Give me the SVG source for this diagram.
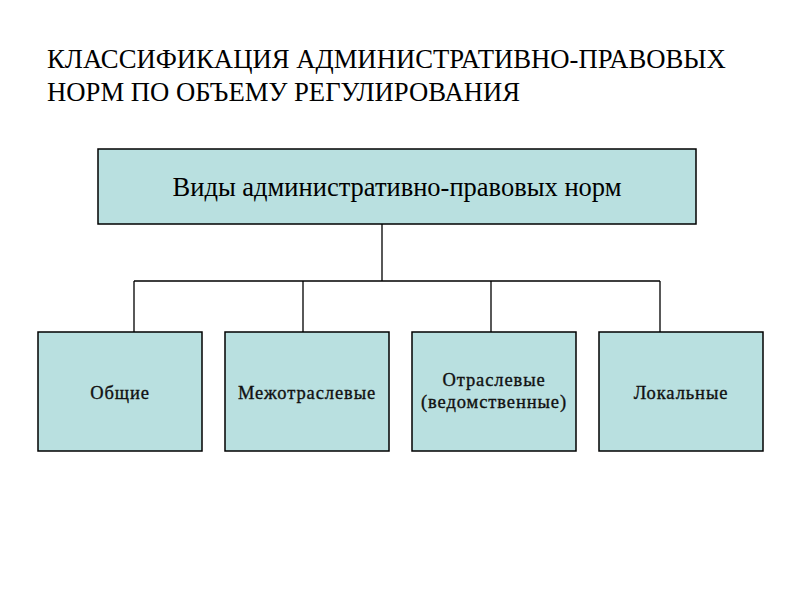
<svg xmlns="http://www.w3.org/2000/svg" width="800" height="600" viewBox="0 0 800 600">
<style>
.box{fill:#b9e0e0;stroke:#000;stroke-width:1.5}
.t{font-family:"Liberation Serif","Times New Roman",serif;fill:#000}
.title{font-size:26.7px}
.main{font-size:26.5px}
.lbl{font-size:18.5px;letter-spacing:0.9px;fill:#111;stroke:#111;stroke-width:0.35}
.conn{fill:none;stroke:#000;stroke-width:1.3}
</style>
<rect width="800" height="600" fill="#fff"/>
<g id="title">
<text class="t title" x="47" y="68">КЛАССИФИКАЦИЯ АДМИНИСТРАТИВНО-ПРАВОВЫХ</text>
<text class="t title" x="47" y="101">НОРМ ПО ОБЪЕМУ РЕГУЛИРОВАНИЯ</text>
</g>
<g id="connectors">
<path class="conn" d="M382 224V281M134 281H660M134 281V332M303 281V332M491 281V332M660 281V332"/>
</g>
<g id="root">
<rect class="box" x="98" y="149" width="598" height="75"/>
<text class="t main" x="397" y="196" text-anchor="middle">Виды административно-правовых норм</text>
</g>
<g id="n1">
<rect class="box" x="38" y="332" width="164" height="119"/>
<text class="t lbl" x="120" y="399" text-anchor="middle">Общие</text>
</g>
<g id="n2">
<rect class="box" x="225" y="332" width="164" height="119"/>
<text class="t lbl" x="307" y="399" text-anchor="middle">Межотраслевые</text>
</g>
<g id="n3">
<rect class="box" x="412" y="332" width="164" height="119"/>
<text class="t lbl" x="494" y="386" text-anchor="middle">Отраслевые</text>
<text class="t lbl" x="494" y="408" text-anchor="middle">(ведомственные)</text>
</g>
<g id="n4">
<rect class="box" x="599" y="332" width="164" height="119"/>
<text class="t lbl" x="681" y="399" text-anchor="middle">Локальные</text>
</g>
</svg>
